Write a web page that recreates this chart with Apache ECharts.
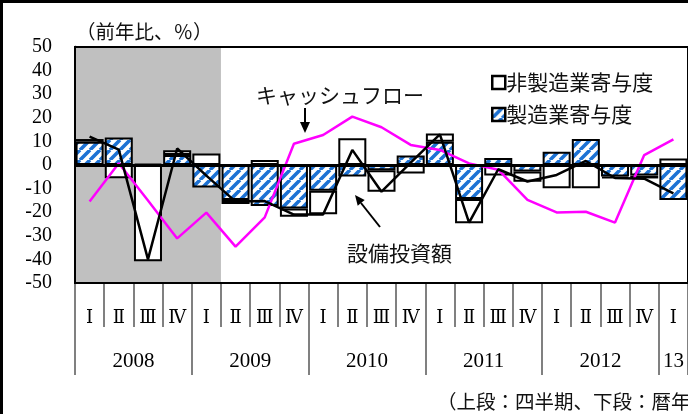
<!DOCTYPE html>
<html><head><meta charset="utf-8">
<script src="https://cdn.jsdelivr.net/npm/echarts@6/dist/echarts.min.js"></script>
<style>html,body{margin:0;padding:0;background:#fff}#c{width:688px;height:414px}</style>
</head><body><div id="c"></div>
<script>
// ---- data ----
const quarterLabels = ['Ⅰ','Ⅱ','Ⅲ','Ⅳ','Ⅰ','Ⅱ','Ⅲ','Ⅳ','Ⅰ','Ⅱ','Ⅲ','Ⅳ','Ⅰ','Ⅱ','Ⅲ','Ⅳ','Ⅰ','Ⅱ','Ⅲ','Ⅳ','Ⅰ'];
const yearLabels = ['2008','2009','2010','2011','2012','13'];
const quartersPerYear = [4,4,4,4,4,1];
const manufacturing = [9.9, 11.7, 0.5, 4.2, -9.5, -14.8, -17.4, -18.4, -10.9, -4.9, -2.2, 4.0, 9.9, -14.4, 3.0, -2.8, 5.6, 11.0, -4.9, -4.5, -14.8];
const nonManufacturing = [1.1, -5.6, -40.8, 2.0, 4.9, -1.7, 2.1, -3.5, -10.0, 11.3, -9.1, -3.6, 3.5, -10.3, -4.5, -4.3, -9.9, -9.9, -0.8, -1.2, 2.8];
const capex = [12.0, 6.5, -40.0, 7.0, -4.5, -15.5, -15.3, -21.0, -21.0, 6.4, -11.3, 1.0, 13.0, -24.4, -1.8, -7.0, -4.2, 1.7, -5.5, -5.8, -12.0];
const cashFlow = [-15.5, 0.7, -15.0, -31.1, -20.2, -34.6, -22.2, 9.0, 12.7, 20.5, 16.0, 8.5, 6.4, 0.7, -2.0, -14.8, -20.1, -19.8, -24.4, 4.2, 10.9];
const shadedQuarters = [0, 5]; // 2008 I .. 2009 I
const yMin = -50, yMax = 50, yStep = 10;

// ---- helpers ----
const SERIF = "'Liberation Serif','Times New Roman','DejaVu Serif',serif";
const CJK = "'Noto Sans CJK JP','Noto Sans',sans-serif";
const nQ = quarterLabels.length;
const qKeys = quarterLabels.map((q, i) => 'q' + i);
// half-quarter positions for the year axis
const halfKeys = [];
for (let i = 0; i <= nQ * 2; i++) halfKeys.push('h' + i);
const yearLabelAt = {}; const yearTickAt = new Set();
let s = 0;
yearLabels.forEach((y, i) => { yearTickAt.add(2 * s); yearLabelAt[2 * s + quartersPerYear[i]] = y; s += quartersPerYear[i]; });
yearTickAt.add(2 * s);

function stripes() {
  const n = 10, c = document.createElement('canvas'); c.width = n; c.height = n;
  const g = c.getContext('2d');
  g.fillStyle = '#fff'; g.fillRect(0, 0, n, n);
  g.strokeStyle = '#1d72d4'; g.lineWidth = 3.6; g.beginPath();
  for (const o of [-n, 0, n]) { g.moveTo(o, n); g.lineTo(o + n, 0); }
  g.stroke();
  return c;
}
const pattern = { image: stripes(), repeat: 'repeat' };

const chart = echarts.init(document.getElementById('c'), null, { renderer: 'canvas' });
chart.setOption({
  animation: false,
  grid: { left: 75, top: 47, width: 616, height: 236, show: true, borderColor: '#000', borderWidth: 2, backgroundColor: 'transparent', z: 10 },
  legend: {
    data: ['非製造業寄与度', '製造業寄与度'], orient: 'vertical', left: 486, top: 67,
    itemWidth: 13, itemHeight: 13, itemGap: 11, icon: 'rect', selectedMode: false,
    itemStyle: { borderColor: '#000', borderWidth: 2.5 },
    textStyle: { fontSize: 21, fontFamily: CJK, color: '#111', padding: [0, 0, 0, -4] }
  },
  xAxis: [
    { type: 'category', data: qKeys, position: 'bottom', boundaryGap: true,
      axisLine: { onZero: false, lineStyle: { color: '#808080', width: 2 } },
      axisTick: { show: true, interval: 0, length: 44, lineStyle: { color: '#808080', width: 2 } },
      axisLabel: { interval: 0, margin: 26, fontSize: 18, fontFamily: SERIF, color: '#000', formatter: (v, i) => quarterLabels[i] } },
    { type: 'category', data: halfKeys, position: 'bottom', boundaryGap: false,
      axisLine: { show: false, onZero: false },
      axisTick: { show: true, length: 92, interval: (i) => yearTickAt.has(i), lineStyle: { color: '#808080', width: 2 } },
      axisLabel: { interval: (i) => yearLabelAt[i] !== undefined, margin: 68, fontSize: 21, fontFamily: SERIF, color: '#000',
        formatter: (v, i) => yearLabelAt[i] || '' } },
    { type: 'value', min: 0, max: nQ, show: false }
  ],
  yAxis: {
    type: 'value', min: yMin, max: yMax, interval: yStep,
    axisLine: { show: true, lineStyle: { color: '#000', width: 2.5 } },
    axisTick: { show: true, inside: true, length: 8, lineStyle: { color: '#000', width: 2 } },
    splitLine: { show: false },
    axisLabel: { margin: 23, fontSize: 20, fontFamily: SERIF, color: '#000', padding: [5, 0, 0, 0] }
  },
  series: [
    { type: 'line', xAxisIndex: 2, data: [], z: 0, silent: true,
      markArea: { silent: true, itemStyle: { color: '#c0c0c0' }, data: [[{ xAxis: shadedQuarters[0] }, { xAxis: shadedQuarters[1] }]] } },
    { name: '製造業寄与度', type: 'bar', stack: 'contrib', data: manufacturing, barCategoryGap: '4%',
      itemStyle: { color: pattern, borderColor: '#000', borderWidth: 2 } },
    { name: '非製造業寄与度', type: 'bar', stack: 'contrib', data: nonManufacturing, barCategoryGap: '4%',
      itemStyle: { color: '#fff', borderColor: '#000', borderWidth: 2 } },
    { name: 'キャッシュフロー', type: 'line', data: cashFlow, symbol: 'none', z: 4,
      lineStyle: { color: '#ff00ff', width: 2.5 } },
    { name: '設備投資額', type: 'line', data: capex, symbol: 'none', z: 5,
      lineStyle: { color: '#000', width: 2.5 },
      markLine: { silent: true, symbol: 'none', label: { show: false }, lineStyle: { color: '#000', width: 3, type: 'solid' }, data: [{ yAxis: 0 }] } }
  ],
  graphic: [
    { type: 'rect', shape: { x: 0, y: 0, width: 688, height: 3 }, style: { fill: '#000' }, silent: true },
    { type: 'rect', shape: { x: 0, y: 0, width: 3, height: 414 }, style: { fill: '#000' }, silent: true },
    { type: 'text', left: 76, top: 22, style: { text: '（前年比、％）', font: '19.5px ' + CJK, fill: '#111' } },
    { type: 'text', left: 256, top: 85, style: { text: 'キャッシュフロー', font: '21px ' + CJK, fill: '#111' } },
    { type: 'line', shape: { x1: 305, y1: 108, x2: 305, y2: 123 }, style: { stroke: '#000', lineWidth: 2 } },
    { type: 'polygon', shape: { points: [[300, 122], [310, 122], [305, 133]] }, style: { fill: '#000' } },
    { type: 'text', left: 347, top: 243, style: { text: '設備投資額', font: '21px ' + CJK, fill: '#111' } },
    { type: 'line', shape: { x1: 380, y1: 227, x2: 361, y2: 203 }, style: { stroke: '#000', lineWidth: 2 } },
    { type: 'polygon', shape: { points: [[355, 195], [364.7, 200.1], [357.7, 205.7]] }, style: { fill: '#000' } },
    { type: 'text', left: 437, top: 392, style: { text: '（上段：四半期、下段：暦年）', font: '19.5px ' + CJK, fill: '#111' } }
  ]
});
</script></body></html>
